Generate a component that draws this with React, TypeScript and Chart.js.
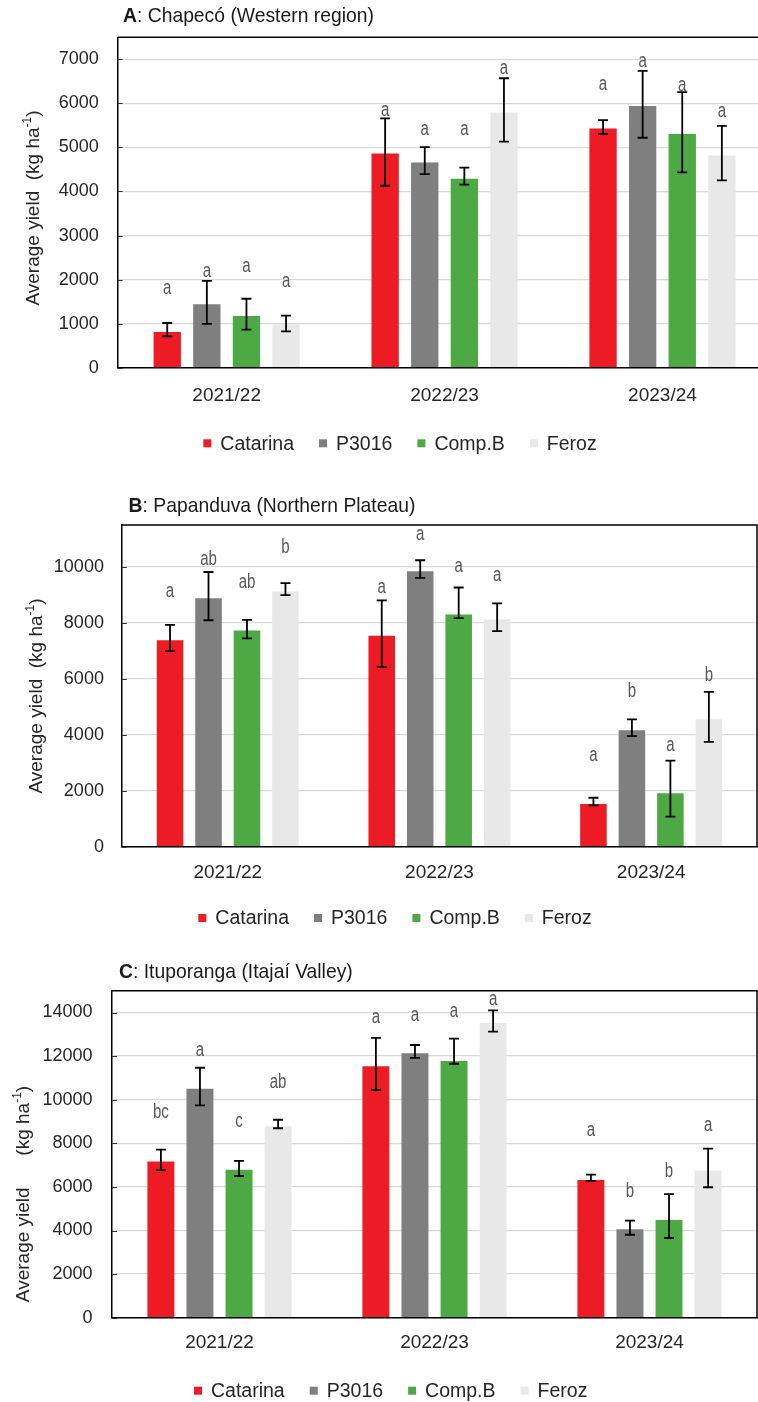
import React, { useEffect, useRef } from 'react';
import { Chart, registerables } from 'chart.js';

Chart.register(...registerables);

// ---------- data ----------
const seasons = ['2021/22', '2022/23', '2023/24'];
const cultivars = ['Catarina', 'P3016', 'Comp.B', 'Feroz'];

// A: Chapecó — [cultivar][season]
const chapecoMean = [[810, 4860, 5430], [1440, 4660, 5940], [1175, 4290, 5305], [985, 5795, 4815]];
const chapecoPlus = [[205, 800, 190], [530, 345, 800], [390, 250, 950], [195, 775, 675]];
const chapecoMinus = [[100, 730, 120], [445, 265, 720], [310, 135, 870], [160, 665, 565]];
const chapecoLetters = [['a', 'a', 'a'], ['a', 'a', 'a'], ['a', 'a', 'a'], ['a', 'a', 'a']];
const chapecoLetterY = [[1800, 5840, 6430], [2175, 5410, 6940], [2290, 5410, 6410], [1950, 6800, 5825]];

// B: Papanduva
const papanduvaMean = [[7380, 7540, 1525], [8880, 9850, 4160], [7730, 8300, 1910], [9120, 8120, 4560]];
const papanduvaPlus = [[550, 1265, 225], [940, 390, 390], [380, 965, 1165], [300, 580, 975]];
const papanduvaMinus = [[390, 1120, 50], [785, 240, 205], [285, 130, 835], [130, 415, 810]];
const papanduvaLetters = [['a', 'a', 'a'], ['ab', 'a', 'b'], ['ab', 'a', 'a'], ['b', 'a', 'b']];
const papanduvaLetterY = [[9110, 9265, 3275], [10265, 11170, 5535], [9445, 10025, 3630], [10700, 9680, 6130]];

// C: Ituporanga
const ituporangaMean = [[7160, 11530, 6320], [10500, 12130, 4055], [6790, 11775, 4480], [8780, 13520, 6745]];
const ituporangaPlus = [[550, 1310, 245], [965, 380, 395], [400, 1025, 1190], [300, 580, 1010]];
const ituporangaMinus = [[395, 1085, 45], [760, 215, 250], [290, 125, 825], [90, 400, 760]];
const ituporangaLetters = [['bc', 'a', 'a'], ['a', 'a', 'b'], ['c', 'a', 'b'], ['ab', 'a', 'a']];
const ituporangaLetterY = [[9420, 13780, 8580], [12280, 13885, 5810], [8990, 14035, 6730], [10810, 14575, 8795]];

const ticksA = [0, 1000, 2000, 3000, 4000, 5000, 6000, 7000];
const ticksB = [0, 2000, 4000, 6000, 8000, 10000];
const ticksC = [0, 2000, 4000, 6000, 8000, 10000, 12000, 14000];
const yMaxA = 7500, yMaxB = 11500, yMaxC = 15000;

// ---------- styles ----------
const colors = ['#ed1c24', '#7f7f7f', '#4da944', '#e8e8e8'];
const FONT = "'Liberation Sans', Arial, Helvetica, sans-serif";
const W = 775;

type PanelData = {
  bold: string; rest: string; mean: number[][]; plus: number[][]; minus: number[][];
  letters: string[][]; letterY: number[][]; yMax: number; ticks: number[];
};
type PanelLayout = {
  top: number; height: number; plotTop: number; plotBottom: number; plotLeft: number; plotRight: number;
  titleX: number; titleY: number; yTitleX: number; yTitleY: number; yTitleGap: string;
  legendX: number; legendY: number; xLabelPad: number; yLabelPad: number;
};

const panels: { d: PanelData; L: PanelLayout }[] = [
  {
    d: { bold: 'A', rest: ': Chapecó (Western region)', mean: chapecoMean, plus: chapecoPlus, minus: chapecoMinus,
      letters: chapecoLetters, letterY: chapecoLetterY, yMax: yMaxA, ticks: ticksA },
    L: { top: 0, height: 465, plotTop: 37.3, plotBottom: 367.7, plotLeft: 117.7, plotRight: 771.4,
      titleX: 123, titleY: 16, yTitleX: 34, yTitleY: 208, yTitleGap: '  ', legendX: 400, legendY: 443.3,
      xLabelPad: 17, yLabelPad: 19 },
  },
  {
    d: { bold: 'B', rest: ': Papanduva (Northern Plateau)', mean: papanduvaMean, plus: papanduvaPlus, minus: papanduvaMinus,
      letters: papanduvaLetters, letterY: papanduvaLetterY, yMax: yMaxB, ticks: ticksB },
    L: { top: 465, height: 480, plotTop: 525, plotBottom: 846.7, plotLeft: 121.9, plotRight: 757,
      titleX: 128.6, titleY: 506, yTitleX: 36.7, yTitleY: 696, yTitleGap: '  ', legendX: 395, legendY: 918,
      xLabelPad: 15, yLabelPad: 18 },
  },
  {
    d: { bold: 'C', rest: ': Ituporanga (Itajaí Valley)', mean: ituporangaMean, plus: ituporangaPlus, minus: ituporangaMinus,
      letters: ituporangaLetters, letterY: ituporangaLetterY, yMax: yMaxC, ticks: ticksC },
    L: { top: 945, height: 457, plotTop: 990.7, plotBottom: 1317.7, plotLeft: 112, plotRight: 757,
      titleX: 119, titleY: 972.3, yTitleX: 24, yTitleY: 1194, yTitleGap: '      ', legendX: 390.7, legendY: 1390.7,
      xLabelPad: 14, yLabelPad: 19.5 },
  },
];

function makeOverlay(d: PanelData, L: PanelLayout) {
  return {
    id: 'overlay',
    afterDatasetsDraw(chart: any) {
      const ctx = chart.ctx;
      const ys = chart.scales.y;
      ctx.save();
      d.mean.forEach((series, i) => {
        const meta = chart.getDatasetMeta(i);
        meta.data.forEach((el: any, j: number) => {
          const x = el.x;
          const yt = ys.getPixelForValue(series[j] + d.plus[i][j]);
          const yb = ys.getPixelForValue(series[j] - d.minus[i][j]);
          ctx.strokeStyle = '#000';
          ctx.lineWidth = 1.8;
          ctx.beginPath();
          ctx.moveTo(x, yt); ctx.lineTo(x, yb);
          ctx.moveTo(x - 5, yt); ctx.lineTo(x + 5, yt);
          ctx.moveTo(x - 5, yb); ctx.lineTo(x + 5, yb);
          ctx.stroke();
          ctx.save();
          ctx.translate(x, ys.getPixelForValue(d.letterY[i][j]));
          ctx.scale(0.75, 1);
          ctx.fillStyle = '#595959';
          ctx.font = `20px ${FONT}`;
          ctx.textAlign = 'center';
          ctx.textBaseline = 'middle';
          ctx.fillText(d.letters[i][j], 0, 0);
          ctx.restore();
        });
      });
      ctx.restore();
    },
    afterDraw(chart: any) {
      const ctx = chart.ctx;
      const a = chart.chartArea;
      const ys = chart.scales.y;
      ctx.save();
      // frame
      ctx.strokeStyle = '#000';
      ctx.lineWidth = 1.5;
      ctx.beginPath();
      ctx.moveTo(a.left, a.top); ctx.lineTo(a.right, a.top); ctx.lineTo(a.right, a.bottom);
      ctx.stroke();
      // inner tick marks
      ctx.lineWidth = 1.2;
      ctx.strokeStyle = '#333';
      ctx.beginPath();
      d.ticks.forEach((v) => {
        const p = Math.round(ys.getPixelForValue(v)) + 0.5;
        ctx.moveTo(a.left, p); ctx.lineTo(a.left + 5, p);
      });
      ctx.stroke();
      // panel title
      ctx.save();
      ctx.translate(L.titleX, L.titleY - L.top);
      ctx.scale(0.92, 1);
      ctx.fillStyle = '#1a1a1a';
      ctx.textBaseline = 'middle';
      ctx.textAlign = 'left';
      ctx.font = `bold 21px ${FONT}`;
      ctx.fillText(d.bold, 0, 0);
      const bw = ctx.measureText(d.bold).width;
      ctx.font = `21px ${FONT}`;
      ctx.fillText(d.rest, bw, 0);
      ctx.restore();
      // y-axis title with superscript
      ctx.save();
      ctx.translate(L.yTitleX, L.yTitleY - L.top);
      ctx.rotate(-Math.PI / 2);
      ctx.fillStyle = '#262626';
      ctx.textBaseline = 'middle';
      ctx.textAlign = 'left';
      const main = `Average yield${L.yTitleGap}(kg ha`;
      const sup = '-1';
      const close = ')';
      ctx.font = `19px ${FONT}`;
      const w1 = ctx.measureText(main).width;
      const w3 = ctx.measureText(close).width;
      ctx.font = `12px ${FONT}`;
      const w2 = ctx.measureText(sup).width;
      let x0 = -(w1 + w2 + w3) / 2;
      ctx.font = `19px ${FONT}`;
      ctx.fillText(main, x0, 0);
      x0 += w1;
      ctx.font = `12px ${FONT}`;
      ctx.fillText(sup, x0, -6);
      x0 += w2;
      ctx.font = `19px ${FONT}`;
      ctx.fillText(close, x0, 0);
      ctx.restore();
      // legend
      ctx.font = `19.5px ${FONT}`;
      const widths = cultivars.map((c) => ctx.measureText(c).width);
      const box = 8, gapBT = 9, gapItem = 25;
      const total = widths.reduce((s, w) => s + w, 0) + cultivars.length * (box + gapBT) + (cultivars.length - 1) * gapItem;
      let lx = L.legendX - total / 2;
      const ly = L.legendY - L.top;
      ctx.textAlign = 'left';
      ctx.textBaseline = 'middle';
      cultivars.forEach((c, i) => {
        ctx.fillStyle = colors[i];
        ctx.fillRect(lx, ly - box / 2, box, box);
        lx += box + gapBT;
        ctx.fillStyle = '#262626';
        ctx.fillText(c, lx, ly + 1);
        lx += widths[i] + gapItem;
      });
      ctx.restore();
    },
  };
}

function Panel({ d, L }: { d: PanelData; L: PanelLayout }) {
  const ref = useRef<HTMLCanvasElement | null>(null);
  useEffect(() => {
    if (!ref.current) return;
    const chart = new Chart(ref.current, {
      type: 'bar',
      data: {
        labels: seasons,
        datasets: cultivars.map((c, i) => ({
          label: c,
          data: d.mean[i],
          backgroundColor: colors[i],
          borderWidth: 0,
          categoryPercentage: 0.727,
          barPercentage: 0.69,
        })),
      },
      options: {
        responsive: false,
        animation: false,
        devicePixelRatio: 1,
        layout: { padding: { left: 0, right: W - L.plotRight, top: L.plotTop - L.top, bottom: 0 } },
        plugins: { legend: { display: false }, tooltip: { enabled: false }, title: { display: false } },
        scales: {
          x: {
            grid: { display: false, drawTicks: false },
            border: { display: true, color: '#000', width: 1.5 },
            ticks: { color: '#262626', font: { family: FONT, size: 19 }, padding: L.xLabelPad },
            afterFit: (s: any) => { s.height = L.height - (L.plotBottom - L.top); },
          },
          y: {
            type: 'linear',
            min: 0,
            max: d.yMax,
            grid: { color: '#d9d9d9', lineWidth: 1.3, drawTicks: false },
            border: { display: true, color: '#000', width: 1.5 },
            ticks: {
              autoSkip: false,
              color: '#262626',
              font: { family: FONT, size: 18 },
              padding: L.yLabelPad,
              callback: (v: any) => String(v),
            },
            afterBuildTicks: (s: any) => { s.ticks = d.ticks.map((v) => ({ value: v })); },
            afterFit: (s: any) => { s.width = L.plotLeft; },
          },
        },
      } as any,
      plugins: [makeOverlay(d, L) as any],
    });
    return () => chart.destroy();
  }, []);
  return (
    <canvas
      ref={ref}
      width={W}
      height={L.height}
      style={{ position: 'absolute', left: 0, top: L.top, width: W, height: L.height }}
    />
  );
}

export default function App() {
  return (
    <div style={{ position: 'absolute', left: 0, top: 0, width: 758, height: 1402, overflow: 'hidden', background: '#fff' }}>
      {panels.map((p, i) => (
        <Panel key={i} d={p.d} L={p.L} />
      ))}
    </div>
  );
}
